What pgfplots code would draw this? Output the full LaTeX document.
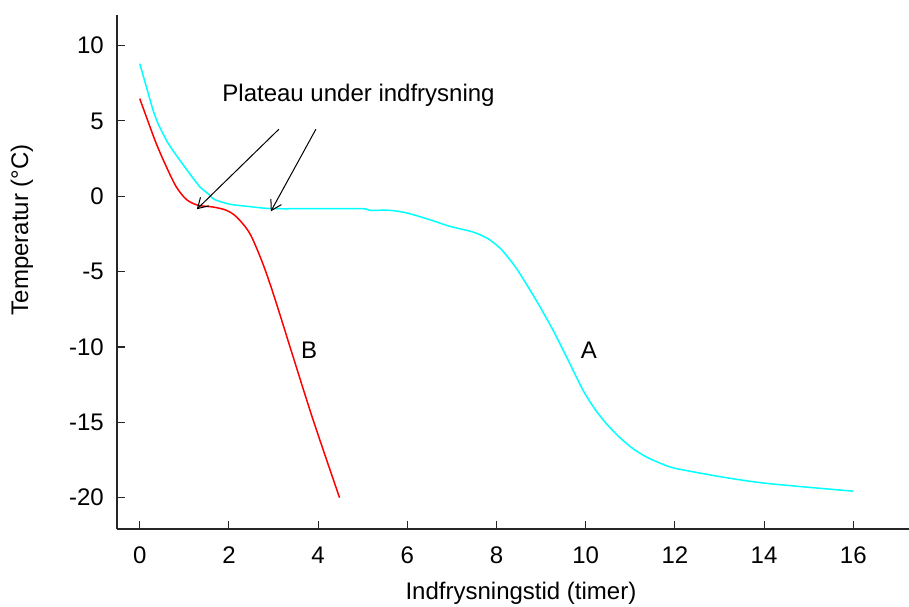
\documentclass[border=0pt]{standalone}
\usepackage{pgfplots}
\pgfplotsset{compat=1.18}
\usepackage{fontspec}
\setmainfont{Liberation Sans}
\usetikzlibrary{arrows.meta}
\newcommand{\fs}{\fontsize{24}{28}\selectfont}
\begin{document}
\begin{tikzpicture}
\begin{axis}[
 scale only axis, width=792pt, height=514pt,
 xmin=-0.51, xmax=17.25, ymin=-22.08, ymax=12.03,
 axis lines=left, axis line style={-, line width=1.3pt, black!85},
 xtick={0,2,...,16}, ytick={-20,-15,...,10},
 tick align=inside, major tick length=8pt, tick style={line width=1.1pt, black!85},
 /pgf/number format/assume math mode=true,
 every tick label/.append style={font=\fs},
 label style={font=\fs},
 xticklabel style={inner sep=0pt, anchor=north, yshift=-18pt},
 yticklabel style={inner sep=0pt, anchor=east, xshift=-13pt},
 xlabel={Indfrysningstid (timer)}, ylabel={Temperatur (°C)},
 xlabel style={at={(axis description cs:0.51,-0.1245)}, anchor=center},
 ylabel style={at={(axis description cs:-0.12,0.582)}, anchor=center},
 clip=false,
]
\addplot[color={rgb,255:red,0;green,255;blue,255}, line width=1.5pt, no marks, smooth, tension=0.4] coordinates {
(0,8.8)(0.15,7.25)(0.3,5.7)(0.41,4.82)(0.52,4.16)(0.64,3.5)(0.82,2.72)(1.12,1.5)(1.35,0.62)(1.53,0.18)(1.68,-0.22)(2.02,-0.53)(2.39,-0.66)(2.96,-0.82)(4.0,-0.82)(5.0,-0.82)(5.16,-0.93)(5.6,-0.93)(5.98,-1.1)(6.5,-1.55)(6.95,-1.99)(7.47,-2.37)(7.8,-2.8)(8.1,-3.5)(8.45,-4.8)(8.89,-6.9)(9.27,-8.9)(9.57,-10.66)(9.94,-12.87)(10.2,-14.1)(10.46,-15.08)(10.76,-16.0)(11.06,-16.75)(11.36,-17.3)(11.66,-17.7)(12.0,-18.05)(13.0,-18.6)(13.9,-19.0)(14.95,-19.3)(16.0,-19.57)
};
\addplot[color=red, line width=1.5pt, no marks, smooth, tension=0.5] coordinates {
(0,6.48)(0.15,5.26)(0.37,3.5)(0.6,1.94)(0.82,0.62)(1.05,-0.22)(1.31,-0.6)(1.64,-0.71)(1.94,-0.93)(2.17,-1.37)(2.47,-2.48)(2.76,-4.47)(3.03,-6.79)(3.44,-10.66)(3.89,-14.86)(4.48,-20.0)
};
\draw[line width=1pt, -{Straight Barb[length=10pt,width=12pt]}] (axis cs:3.12,4.45) -- (axis cs:1.28,-0.86);
\draw[line width=1pt, -{Straight Barb[length=10pt,width=12pt]}] (axis cs:3.95,4.45) -- (axis cs:2.94,-1.0);
\node[font=\fs, inner sep=0pt, anchor=base west] at (axis cs:1.85,6.26) {Plateau under indfrysning};
\node[font=\fs, inner sep=0pt, anchor=center] at (axis cs:3.80,-10.22) {B};
\node[font=\fs, inner sep=0pt, anchor=center] at (axis cs:10.07,-10.25) {A};
\end{axis}
\pgfresetboundingbox
\path[use as bounding box] ([xshift=-117pt,yshift=-77pt]current axis.south west) rectangle ([yshift=15pt]current axis.north east);
\end{tikzpicture}
\end{document}
